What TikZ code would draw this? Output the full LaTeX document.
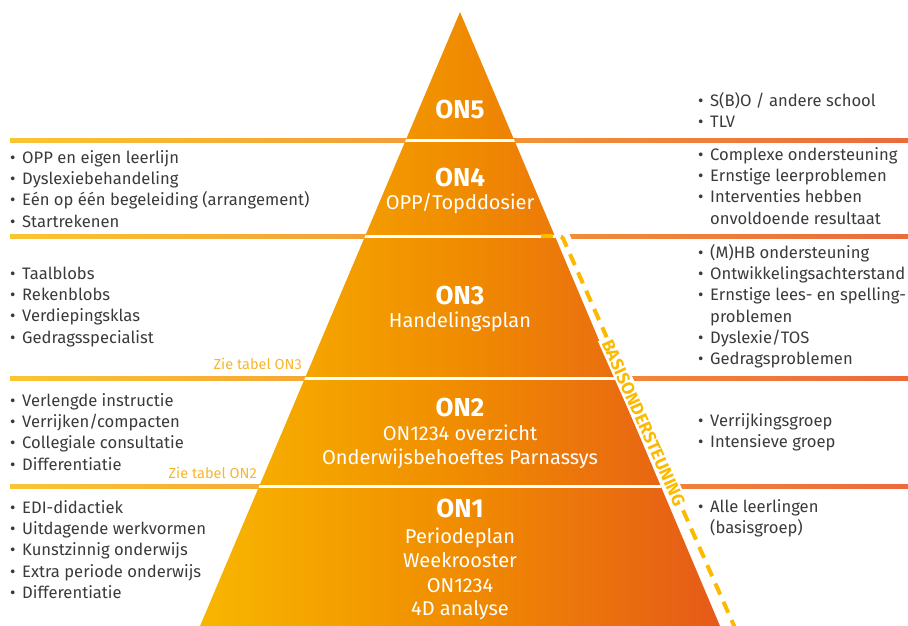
\documentclass[tikz,border=0pt]{standalone}
\usepackage{fontspec}
\setmainfont{Fira Sans}
\definecolor{txt}{HTML}{3A3A3A}
\definecolor{lineL}{HTML}{F9C533}
\definecolor{lineR}{HTML}{ED6A3B}
\definecolor{triL}{HTML}{F8B600}
\definecolor{triM}{HTML}{F08C00}
\definecolor{triR}{HTML}{E65A19}
\definecolor{gold}{HTML}{FBBA00}
\definecolor{zie}{HTML}{F7B52C}
\tikzset{
  listtext/.style={anchor=north west, inner sep=0, align=left, text=txt, font=\fontsize{16.6}{21.3}\selectfont},
  title/.style={anchor=base, inner sep=0, text=white, font=\fontsize{26}{30}\selectfont\bfseries},
  sub/.style={anchor=base, inner sep=0, text=white, font=\fontsize{20}{24}\selectfont},
  zietext/.style={anchor=base east, inner sep=0, text=zie, font=\fontsize{14.5}{16}\selectfont},
  band/.style={left color=lineL, right color=lineR},
  sep/.style={white, line width=3},
  dashY/.style={draw=gold, line width=4, dash pattern=on 12 off 8},
}
\newcommand{\bl}[1]{\makebox[12pt][l]{\textbullet}#1\strut}
\newcommand{\cl}[1]{\hspace*{12pt}#1\strut}
\begin{document}
\begin{tikzpicture}[x=1pt,y=-1pt]
\useasboundingbox (0,0) rectangle (908,626);
% coloured rules
\shade[band] (10,138) rectangle (908,142);
\shade[band] (10,234) rectangle (908,238);
\shade[band] (10,376) rectangle (908,380);
\shade[band] (10,484) rectangle (908,488);
% white strip along the dashed line
\fill[white] (500,231) -- (568,231) -- (742,626) -- (600,626) -- cycle;
% pyramid
\coordinate (apex) at (460,12);
\coordinate (bl) at (200,626);
\coordinate (br) at (720,626);
\shade[left color=triL, right color=triR, middle color=triM] (apex) -- (br) -- (bl) -- cycle;
\begin{scope}
\clip (apex) -- (br) -- (bl) -- cycle;
\foreach \y in {140,236,378,486} \draw[sep] (150,\y) -- (760,\y);
\end{scope}
% dashed border
\coordinate (d0) at (541,236);
\coordinate (d1) at (562,236);
\coordinate (d2) at (735,628);
\draw[dashY, rounded corners=3] (d0) -- (d1) -- (d2);
\node[rotate=-66, fill=white, inner xsep=3, inner ysep=2, text=gold, font=\fontsize{17.5}{19}\selectfont\bfseries] (basis) at (643.5,423) {BASISONDERSTEUNING};
% titles
\node[title] (on5) at (460,118) {ON5};
\node[title] (on4) at (460,186) {ON4};
\node[sub] (on4a) at (460,209.5) {OPP/Topddosier};
\node[title] (on3) at (460,304) {ON3};
\node[sub] (on3a) at (460,327.5) {Handelingsplan};
\node[title] (on2) at (460,416) {ON2};
\node[sub] (on2a) at (460,440) {ON1234 overzicht};
\node[sub] (on2b) at (460,464) {Onderwijsbehoeftes Parnassys};
\node[title] (on1) at (460,517) {ON1};
\node[sub] (on1a) at (460,543) {Periodeplan};
\node[sub] (on1b) at (460,567) {Weekrooster};
\node[sub] (on1c) at (460,592) {ON1234};
\node[sub] (on1d) at (460,615) {4D analyse};
% left lists
\node[listtext] (l4) at (10,148) {\bl{OPP en eigen leerlijn}\\\bl{Dyslexiebehandeling}\\\bl{Eén op één begeleiding (arrangement)}\\\bl{Startrekenen}};
\node[listtext] (l3) at (10,264) {\bl{Taalblobs}\\\bl{Rekenblobs}\\\bl{Verdiepingsklas}\\\bl{Gedragsspecialist}};
\node[listtext] (l2) at (10,391) {\bl{Verlengde instructie}\\\bl{Verrijken/compacten}\\\bl{Collegiale consultatie}\\\bl{Differentiatie}};
\node[listtext] (l1) at (10,498) {\bl{EDI-didactiek}\\\bl{Uitdagende werkvormen}\\\bl{Kunstzinnig onderwijs}\\\bl{Extra periode onderwijs}\\\bl{Differentiatie}};
% right lists
\node[listtext] (r5) at (698,91) {\bl{S(B)O / andere school}\\\bl{TLV}};
\node[listtext] (r4) at (698,145) {\bl{Complexe ondersteuning}\\\bl{Ernstige leerproblemen}\\\bl{Interventies hebben}\\\cl{onvoldoende resultaat}};
\node[listtext] (r3) at (698,243) {\bl{(M)HB ondersteuning}\\\bl{Ontwikkelingsachterstand}\\\bl{Ernstige lees- en spelling-}\\\cl{problemen}\\\bl{Dyslexie/TOS}\\\bl{Gedragsproblemen}};
\node[listtext] (r2) at (698,411) {\bl{Verrijkingsgroep}\\\bl{Intensieve groep}};
\node[listtext] (r1) at (698,497) {\bl{Alle leerlingen}\\\cl{(basisgroep)}};
% references
\node[zietext] (z3) at (302,369) {Zie tabel ON3};
\node[zietext] (z2) at (257,478) {Zie tabel ON2};
\end{tikzpicture}
\end{document}
